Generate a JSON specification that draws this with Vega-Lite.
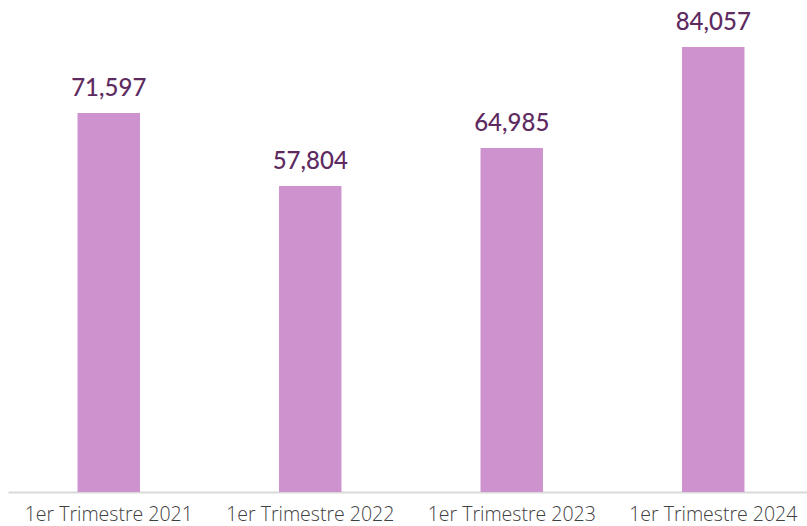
{
  "$schema": "https://vega.github.io/schema/vega-lite/v6.json",
  "autosize": {"type": "none"},
  "width": 806,
  "height": 492,
  "padding": {"left": 8, "top": 0, "right": 0, "bottom": 34},
  "background": "white",
  "config": {"view": {"stroke": null}},
  "data": {"values": [
    {"periodo": "1er Trimestre 2021", "valor": 71597},
    {"periodo": "1er Trimestre 2022", "valor": 57804},
    {"periodo": "1er Trimestre 2023", "valor": 64985},
    {"periodo": "1er Trimestre 2024", "valor": 84057}
  ]},
  "encoding": {
    "x": {"field": "periodo", "type": "nominal", "sort": null,
      "scale": {"paddingInner": 0.69, "paddingOuter": 0.345},
      "axis": {"title": null, "labelAngle": 0, "labelFont": "Open Sans", "labelFontSize": 19.5, "labelFontWeight": 300, "labelColor": "#404040",
        "labelPadding": 13, "ticks": false, "domainColor": "#D9D9D9", "domainWidth": 2, "grid": false}},
    "y": {"field": "valor", "type": "quantitative", "scale": {"domain": [0, 92935], "nice": false}, "axis": null}
  },
  "layer": [
    {"mark": {"type": "bar", "color": "#CE93CF"}},
    {"mark": {"type": "text", "dy": -17, "baseline": "alphabetic", "font": "Lato", "fontSize": 24, "fontWeight": 500, "color": "#5E2A60"},
     "encoding": {"text": {"field": "valor", "type": "quantitative", "format": ","}}}
  ]
}
